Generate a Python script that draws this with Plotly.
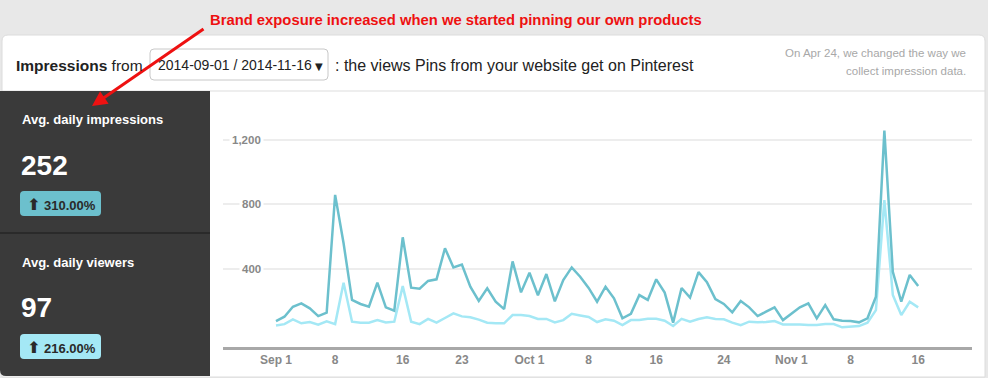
import plotly.graph_objects as go
import pandas as pd

# ---------------- data ----------------
start_date = "2014-09-01"
end_date = "2014-11-16"
dates = pd.date_range(start_date, end_date).strftime("%Y-%m-%d").tolist()

impressions = [75, 102, 164, 185, 154, 106, 127, 858, 558, 206,
               181, 164, 313, 160, 139, 595, 282, 276, 324, 334,
               527, 408, 425, 288, 200, 278, 195, 149, 445, 253,
               375, 235, 367, 197, 330, 408, 350, 281, 195, 288,
               216, 92, 120, 236, 206, 334, 252, 65, 280, 221,
               379, 316, 211, 181, 129, 199, 160, 106, 133, 160,
               81, 123, 160, 185, 92, 174, 86, 77, 75, 67,
               92, 226, 1257, 381, 195, 361, 292]

viewers = [48, 56, 86, 61, 69, 52, 73, 56, 313, 71,
           65, 65, 81, 66, 71, 292, 71, 56, 88, 65,
           94, 123, 104, 99, 84, 65, 61, 61, 112, 112,
           106, 88, 88, 67, 81, 120, 110, 100, 69, 86,
           77, 50, 81, 81, 89, 89, 77, 44, 89, 71,
           88, 98, 88, 86, 65, 50, 71, 67, 69, 75,
           54, 56, 54, 50, 50, 56, 56, 36, 40, 44,
           65, 143, 826, 237, 112, 195, 160]

x_tick_dates = ["2014-09-01", "2014-09-08", "2014-09-16", "2014-09-23", "2014-10-01",
                "2014-10-08", "2014-10-16", "2014-10-24", "2014-11-01", "2014-11-08",
                "2014-11-16"]
x_tick_text = ["Sep 1", "8", "16", "23", "Oct 1", "8", "16", "24", "Nov 1", "8", "16"]

y_tick_vals = [400, 800, 1200]
y_tick_text = ["400", "800", "1,200"]

avg_impressions = "252"
avg_impressions_change = "310.00%"
avg_viewers = "97"
avg_viewers_change = "216.00%"

# ---------------- helpers ----------------
W, H = 988, 378


def px(x):
    return x / W


def py(y):
    return 1 - y / H


def rrect(x0, y0, x1, y1, r, corners="tl tr bl br"):
    c = corners.split()
    rtl = r if "tl" in c else 0
    rtr = r if "tr" in c else 0
    rbr = r if "br" in c else 0
    rbl = r if "bl" in c else 0
    p = f"M {px(x0 + rtl)},{py(y0)} L {px(x1 - rtr)},{py(y0)} "
    if rtr:
        p += f"Q {px(x1)},{py(y0)} {px(x1)},{py(y0 + rtr)} "
    p += f"L {px(x1)},{py(y1 - rbr)} "
    if rbr:
        p += f"Q {px(x1)},{py(y1)} {px(x1 - rbr)},{py(y1)} "
    p += f"L {px(x0 + rbl)},{py(y1)} "
    if rbl:
        p += f"Q {px(x0)},{py(y1)} {px(x0)},{py(y1 - rbl)} "
    p += f"L {px(x0)},{py(y0 + rtl)} "
    if rtl:
        p += f"Q {px(x0)},{py(y0)} {px(x0 + rtl)},{py(y0)} "
    p += "Z"
    return p


FONT = "Liberation Sans, Arial, DejaVu Sans, sans-serif"

fig = go.Figure()

fig.add_trace(go.Scatter(x=dates, y=viewers, mode="lines",
                         line=dict(color="#a4e8f5", width=2.5),
                         hoverinfo="skip", name="Avg. daily viewers"))
fig.add_trace(go.Scatter(x=dates, y=impressions, mode="lines",
                         line=dict(color="#6cc0cd", width=2.5),
                         hoverinfo="skip", name="Avg. daily impressions"))

x0_day = pd.Timestamp(start_date) + pd.Timedelta(days=-6.27)
x1_day = pd.Timestamp(start_date) + pd.Timedelta(days=82.37)

shapes = []
shapes.append(dict(type="path", path=rrect(2, 35, 985, 377, 6, "tl tr"), xref="paper", yref="paper",
                   fillcolor="white", line=dict(color="#dcdcdc", width=1), layer="below"))
shapes.append(dict(type="line", x0=px(2), x1=px(985), y0=py(91), y1=py(91), xref="paper", yref="paper",
                   line=dict(color="#dddddd", width=1), layer="below"))
shapes.append(dict(type="path", path=rrect(0, 91, 210, 376, 6, "bl"), xref="paper", yref="paper",
                   fillcolor="#3a3a3a", line=dict(width=0), layer="below"))
shapes.append(dict(type="line", x0=px(0), x1=px(210), y0=py(233), y1=py(233), xref="paper", yref="paper",
                   line=dict(color="#2a2a2a", width=2), layer="below"))
shapes.append(dict(type="path", path=rrect(150, 49, 328, 80, 4), xref="paper", yref="paper",
                   fillcolor="white", line=dict(color="#c8c8c8", width=1), layer="below"))
shapes.append(dict(type="path", path=rrect(20, 191, 101, 216, 4), xref="paper", yref="paper",
                   fillcolor="#6cc0cd", line=dict(width=0), layer="below"))
shapes.append(dict(type="path", path=rrect(20, 334, 101, 359, 4), xref="paper", yref="paper",
                   fillcolor="#a4e8f5", line=dict(width=0), layer="below"))

annotations = []


def txt(text, x, y, size, color, anchor="left", bold=False, family=FONT):
    annotations.append(dict(text=text, x=px(x), y=py(y), xref="paper", yref="paper",
                            xanchor=anchor, yanchor="middle", showarrow=False,
                            font=dict(size=size, color=color, family=family,
                                      weight="bold" if bold else "normal")))


# red note
txt("Brand exposure increased when we started pinning our own products", 456, 20, 14.8, "#ee1111",
    anchor="center", bold=True)
annotations.append(dict(text="", x=px(92), y=py(106), xref="paper", yref="paper",
                        ax=113, ay=-78, axref="pixel", ayref="pixel",
                        showarrow=True, arrowhead=2, arrowsize=1, arrowwidth=3, arrowcolor="#ee1111"))

# header
txt("<b>Impressions</b> from", 14, 65, 15.5, "#222222")
txt("2014-09-01 / 2014-11-16", 156, 65, 14, "#222222")
txt("\u25BC", 313, 66, 10, "#222222", family="DejaVu Sans")
txt(": the views Pins from your website get on Pinterest", 333, 65, 16, "#222222")
txt("On Apr 24, we changed the way we", 968, 53, 11.5, "#a8a8a8", anchor="right")
txt("collect impression data.", 968, 71, 11.5, "#a8a8a8", anchor="right")

# left panel
arrow_up = '<span style="font-size:16px;font-family:DejaVu Sans">\u2B06</span>'
txt("Avg. daily impressions", 20, 119, 13, "white", bold=True)
txt(avg_impressions, 19, 165, 28, "white", bold=True)
txt(arrow_up + " " + avg_impressions_change, 25, 204, 13, "#2a2a2a", bold=True)
txt("Avg. daily viewers", 20, 262, 13, "white", bold=True)
txt(avg_viewers, 19, 307, 28, "white", bold=True)
txt(arrow_up + " " + avg_viewers_change, 25, 347, 13, "#2a2a2a", bold=True)

for v, t in zip(y_tick_vals, y_tick_text):
    annotations.append(dict(text=t, x=px(264), y=v, xref="paper", yref="y", xanchor="right",
                            yanchor="middle", showarrow=False, bgcolor="white", borderpad=2,
                            font=dict(size=11.5, color="#888888", family=FONT, weight="bold")))

fig.update_layout(
    width=W, height=H,
    margin=dict(l=0, r=0, t=0, b=0),
    paper_bgcolor="#e8e8e8",
    plot_bgcolor="rgba(0,0,0,0)",
    showlegend=False,
    hovermode=False,
    shapes=shapes,
    annotations=annotations,
    xaxis=dict(domain=[px(223), px(972)], range=[x0_day, x1_day], type="date",
               tickvals=x_tick_dates, ticktext=x_tick_text, showgrid=False, zeroline=False,
               showline=True, linecolor="#a8a8a8", linewidth=3, ticks="",
               tickfont=dict(size=12, color="#888888", family=FONT, weight="bold")),
    yaxis=dict(domain=[py(347), py(95)], range=[-86, 1478], tickvals=y_tick_vals,
               showticklabels=False, showgrid=True, gridcolor="#ededed", gridwidth=2,
               zeroline=False, showline=False),
)

fig.write_html("out.html", config={"displayModeBar": False},
               post_script="document.body.style.margin='0px';document.body.style.overflow='hidden';")
